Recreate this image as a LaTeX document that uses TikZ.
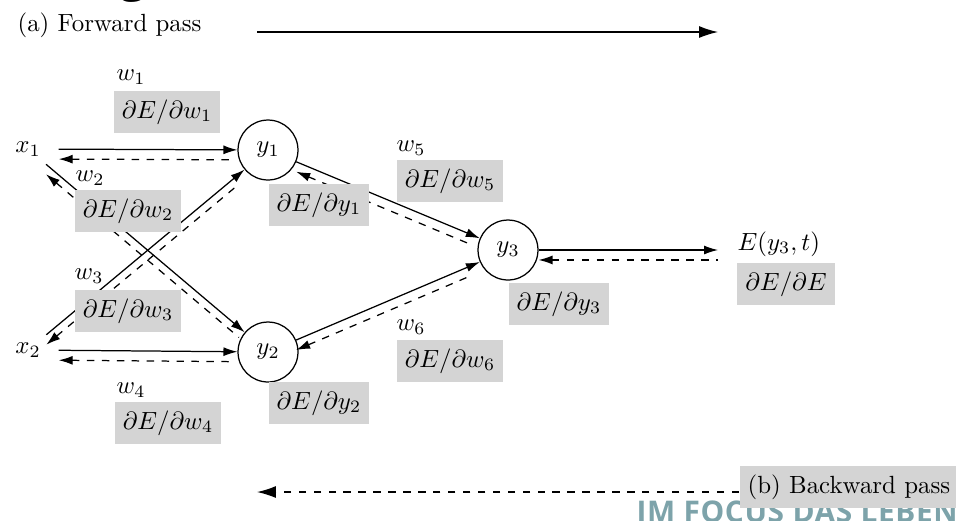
\documentclass[tikz,border=0pt]{standalone}
\usepackage{fontspec}
\usetikzlibrary{arrows.meta}

\newfontfamily\footerfont[LetterSpace=2]{Open Sans}
\newfontfamily\titlefont{Open Sans}

\definecolor{boxgray}{gray}{0.83}
\definecolor{footerteal}{RGB}{125,163,170}

\def \dashGap {4pt}

\begin{document}
\begin{tikzpicture}[x=0.402pt,y=-0.402pt,line width=0.5pt,
    >={Latex[length=5.6pt,width=3.6pt]},
    neuron/.style={circle,draw,minimum size=24.1pt,inner sep=0pt},
    input/.style={inner xsep=7pt,inner ysep=3pt},
    grad/.style={fill=boxgray,inner sep=3.25pt},
    back/.style={dashed,<-,transform canvas={yshift=-\dashGap}},
    passarrow/.style={-{Latex[length=7.6pt,width=4.8pt]}}]
  \useasboundingbox (0,0) rectangle (956,520);

  % slide remains
  \node[anchor=base,inner sep=0pt,font=\titlefont\fontsize{20}{24}\selectfont] (title) at (133,-10) {g};
  \node[anchor=base west,inner sep=0pt,text=footerteal,font=\footerfont\bfseries\fontsize{12}{14}\selectfont] (footer) at (636,522) {IM FOCUS DAS LEBEN};

  % units
  \node[input] (x1) at (28,149) {$x_1$};
  \node[input] (x2) at (28,350) {$x_2$};
  \node[neuron] (y1) at (268,150) {$y_1$};
  \node[neuron] (y2) at (268,352) {$y_2$};
  \node[neuron] (y3) at (508,250) {$y_3$};
  \node[anchor=west,inner xsep=7.6pt] (E) at (718,244) {$E(y_3,t)$};

  % forward (solid) and backward (dashed)
  \draw[->] (x1) -- (y1);
  \draw[->] (x1) -- (y2);
  \draw[->] (x2) -- (y1);
  \draw[->] (x2) -- (y2);
  \draw[->] (y1) -- (y3);
  \draw[->] (y2) -- (y3);
  \draw[->] (y3) -- (y3 -| E.west);
  \draw[back,shorten >=3pt] (x1) -- (y1);
  \draw[back,shorten >=3pt] (x1) -- (y2);
  \draw[back,shorten >=3pt] (x2) -- (y1);
  \draw[back,shorten >=3pt] (x2) -- (y2);
  \draw[back,shorten >=3pt] (y1) -- (y3);
  \draw[back,shorten >=3pt] (y2) -- (y3);
  \draw[back] (y3) -- (y3 -| E.west);

  % weights and gradients
  \node (w1) at (131,77) {$w_1$};
  \node (w2) at (90,178) {$w_2$};
  \node (w3) at (89,276) {$w_3$};
  \node (w4) at (131,390) {$w_4$};
  \node (w5) at (411,148) {$w_5$};
  \node (w6) at (411,327) {$w_6$};
  \node[grad] (dw1) at (167,112) {$\partial E/\partial w_1$};
  \node[grad] (dw2) at (128,211) {$\partial E/\partial w_2$};
  \node[grad] (dw3) at (128,311) {$\partial E/\partial w_3$};
  \node[grad] (dw4) at (168,423) {$\partial E/\partial w_4$};
  \node[grad] (dw5) at (450,181) {$\partial E/\partial w_5$};
  \node[grad] (dw6) at (450,361) {$\partial E/\partial w_6$};
  \node[grad] (dy1) at (319,205) {$\partial E/\partial y_1$};
  \node[grad] (dy2) at (319,403) {$\partial E/\partial y_2$};
  \node[grad] (dy3) at (559,304) {$\partial E/\partial y_3$};
  \node[grad] (dE) at (786,284) {$\partial E/\partial E$};

  % passes
  \node[anchor=base west,inner sep=0pt] (fwd) at (17,31) {(a) Forward pass};
  \coordinate (fwdStart) at (257,32);
  \coordinate (fwdEnd) at (718,32);
  \draw[passarrow] (fwdStart) -- (fwdEnd);
  \node[grad,anchor=west] (bwd) at (739,487) {(b) Backward pass};
  \coordinate (bwdEnd) at (257,492);
  \draw[dashed,passarrow] (bwd.west |- bwdEnd) -- (bwdEnd);
\end{tikzpicture}
\end{document}
